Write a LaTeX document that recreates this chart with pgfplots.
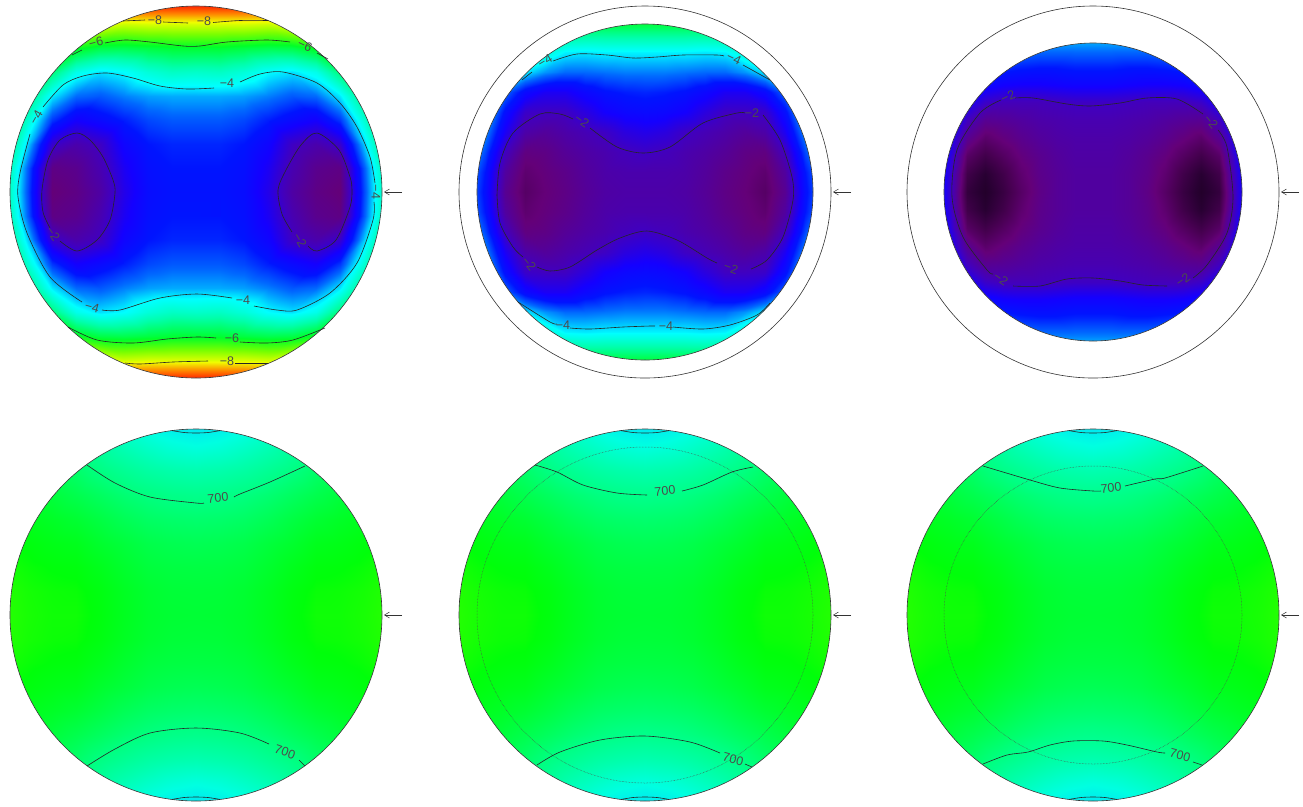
\documentclass[border=0pt]{standalone}
\usepackage{fontspec}
\setmainfont{Liberation Sans}
\usepackage{pgfplots}
\usepackage{pgfplotstable}
\pgfplotsset{compat=1.18}
\usetikzlibrary{arrows.meta}
\pgfplotsset{
 colormap={topmap}{rgb255(0pt)=(220,0,0) rgb255(5pt)=(255,20,0) rgb255(15pt)=(255,130,0) rgb255(25pt)=(240,255,0) rgb255(35pt)=(120,255,0) rgb255(45pt)=(0,255,40) rgb255(55pt)=(0,255,170) rgb255(63pt)=(0,255,255) rgb255(65pt)=(0,215,255) rgb255(70pt)=(0,105,255) rgb255(75pt)=(0,20,255) rgb255(79pt)=(20,0,255) rgb255(85pt)=(65,0,190) rgb255(93pt)=(100,0,120) rgb255(97pt)=(72,0,82) rgb255(101pt)=(40,0,50) rgb255(105pt)=(20,0,20)},
 colormap={botmap}{rgb255(0pt)=(0,225,245) rgb255(30pt)=(0,255,225) rgb255(70pt)=(0,255,175) rgb255(110pt)=(0,255,130) rgb255(160pt)=(0,255,60) rgb255(195pt)=(0,255,10) rgb255(210pt)=(45,255,0)},
 panel/.style={scale only axis,width=450pt,height=420pt,xmin=-225,xmax=225,ymin=-210,ymax=210,y dir=reverse,hide axis,anchor=center},
 toppanel/.style={panel,colormap name=topmap,point meta min=-10.5,point meta max=0},
 botpanel/.style={panel,colormap name=botmap,point meta min=590,point meta max=800},
 fieldstyle/.style={surf,shader=interp,mesh/ordering=x varies,point meta=explicit,forget plot},
 cline/.style={black!85,line width=0.6pt,smooth,no marks,forget plot},
}
\newcommand\disk[2]{%
 \addplot[fieldstyle,mesh/cols=#2] table[x=x,y=y,meta=v]{#1};
 \addplot[fieldstyle,mesh/cols=#2] table[x expr={-\thisrow{x}},y=y,meta=v]{#1};
 \addplot[fieldstyle,mesh/cols=#2] table[x=x,y expr={-\thisrow{y}},meta=v]{#1};
 \addplot[fieldstyle,mesh/cols=#2] table[x expr={-\thisrow{x}},y expr={-\thisrow{y}},meta=v]{#1};
}
\newcommand\mask[1]{\fill[white,even odd rule] (axis cs:-225,-210) rectangle (axis cs:225,210) (axis cs:0,0) circle [radius=#1];}
\newcommand\rim[1]{\draw[black!80,line width=0.6pt] (axis cs:0,0) circle [radius=#1];}
\newcommand\pointer{\addplot[black!80,line width=0.5pt,no marks,forget plot,-{Straight Barb[length=5pt,width=6pt]}] coordinates {(206,0)(188,0)};}
\newcommand\ct[1]{\addplot[cline] coordinates {#1};}
\newcommand\lab[4][0]{\node[font=\fontsize{12.5}{13}\selectfont,text=black!70,rotate=#1,inner sep=0pt] at (axis cs:#2,#3) {#4};}
\newcommand\poles{\ct{(-24,-184.4)(-12,-182.5)(0,-182)(12,-182.5)(24,-184.4)}\ct{(-24,184.4)(-12,182.5)(0,182)(12,182.5)(24,184.4)}}

\pgfplotstableread{
x y v
-24 -24 -2.95
0 -24 -3.0
24 -24 -3.0
48 -24 -2.9
72 -24 -2.5
96 -24 -1.85
120 -24 -1.45
144 -24 -1.35
168 -24 -3.4
192 -24 -5.3
-24 0 -2.95
0 0 -2.95
24 0 -2.95
48 0 -2.85
72 0 -2.4
96 0 -1.7
120 0 -1.35
144 0 -1.2
168 0 -3.3
192 0 -5.2
-24 24 -3.0
0 24 -3.0
24 24 -3.0
48 24 -2.9
72 24 -2.5
96 24 -1.85
120 24 -1.45
144 24 -1.35
168 24 -3.4
192 24 -5.3
-24 48 -3.1
0 48 -3.1
24 48 -3.1
48 48 -3.0
72 48 -2.7
96 48 -2.05
120 48 -1.8
144 48 -2.15
168 48 -3.95
192 48 -5.7
-24 72 -3.4
0 72 -3.4
24 72 -3.4
48 72 -3.3
72 72 -3.05
96 72 -2.8
120 72 -2.6
144 72 -3.2
168 72 -4.6
192 72 -6.2
-24 96 -3.8
0 96 -3.8
24 96 -3.8
48 96 -3.75
72 96 -3.6
96 96 -3.4
120 96 -3.5
144 96 -4.1
168 96 -5.4
192 96 -7
-24 120 -4.75
0 120 -4.7
24 120 -4.75
48 120 -4.55
72 120 -4.2
96 120 -4.05
120 120 -4.4
144 120 -5.4
168 120 -6.8
192 120 -8.5
-24 144 -5.9
0 144 -5.9
24 144 -5.9
48 144 -5.8
72 144 -5.7
96 144 -5.75
120 144 -6.1
144 144 -7
168 144 -8.3
192 144 -10
-24 168 -7.8
0 168 -7.8
24 168 -7.8
48 168 -7.8
72 168 -7.7
96 168 -8
120 168 -8.5
144 168 -9.3
168 168 -10
192 168 -10.5
-24 192 -10.5
0 192 -10.5
24 192 -10.5
48 192 -10.5
72 192 -10.5
96 192 -10.5
120 192 -10.5
144 192 -10.5
168 192 -10.5
192 192 -10.5
}\tA

\pgfplotstableread{
x y v
-20 -20 -1.8
0 -20 -1.8
20 -20 -1.8
40 -20 -1.75
60 -20 -1.6
80 -20 -1.4
100 -20 -1.25
120 -20 -1.1
140 -20 -1.65
160 -20 -3.0
180 -20 -3.9
-20 0 -1.75
0 0 -1.75
20 0 -1.75
40 0 -1.7
60 0 -1.55
80 0 -1.35
100 0 -1.2
120 0 -1.0
140 0 -1.5
160 0 -2.9
180 0 -3.8
-20 20 -1.8
0 20 -1.8
20 20 -1.8
40 20 -1.75
60 20 -1.6
80 20 -1.4
100 20 -1.25
120 20 -1.1
140 20 -1.65
160 20 -3.0
180 20 -3.9
-20 40 -1.97
0 40 -2.05
20 40 -1.97
40 40 -1.82
60 40 -1.7
80 40 -1.55
100 40 -1.35
120 40 -1.3
140 40 -2.0
160 40 -3.3
180 40 -4.3
-20 60 -2.3
0 60 -2.4
20 60 -2.3
40 60 -2.05
60 60 -1.9
80 60 -1.75
100 60 -1.6
120 60 -1.75
140 60 -2.5
160 60 -3.7
180 60 -4.8
-20 80 -2.75
0 80 -2.8
20 80 -2.75
40 80 -2.6
60 80 -2.3
80 80 -2.03
100 80 -2.02
120 80 -2.1
140 80 -2.9
160 80 -4.1
180 80 -5.5
-20 100 -3.05
0 100 -3.1
20 100 -3.05
40 100 -2.95
60 100 -2.75
80 100 -2.5
100 100 -2.5
120 100 -2.8
140 100 -3.5
160 100 -4.8
180 100 -6
-20 120 -3.6
0 120 -3.6
20 120 -3.6
40 120 -3.55
60 120 -3.5
80 120 -3.5
100 120 -3.7
120 120 -4.1
140 120 -4.9
160 120 -5.8
180 120 -6.8
-20 140 -4.15
0 140 -4.15
20 140 -4.15
40 140 -4.15
60 140 -4.1
80 140 -4.15
100 140 -4.6
120 140 -5.2
140 140 -6
160 140 -6.9
180 140 -7.8
-20 160 -5.3
0 160 -5.3
20 160 -5.3
40 160 -5.3
60 160 -5.3
80 160 -5.5
100 160 -5.9
120 160 -6.5
140 160 -7.2
160 160 -8
180 160 -8.8
-20 180 -6.6
0 180 -6.6
20 180 -6.6
40 180 -6.6
60 180 -6.7
80 180 -6.9
100 180 -7.2
120 180 -7.7
140 180 -8.3
160 180 -9
180 180 -9.7
}\tBraw

\pgfplotstableread{
x y v
-18 -18 -1.65
0 -18 -1.65
18 -18 -1.65
36 -18 -1.55
54 -18 -1.4
72 -18 -1.1
90 -18 -0.7
108 -18 -0.4
126 -18 -0.7
144 -18 -2.25
162 -18 -3.5
-18 0 -1.65
0 0 -1.65
18 0 -1.65
36 0 -1.55
54 0 -1.35
72 0 -1.0
90 0 -0.6
108 0 -0.3
126 0 -0.55
144 0 -2.2
162 0 -3.5
-18 18 -1.65
0 18 -1.65
18 18 -1.65
36 18 -1.55
54 18 -1.4
72 18 -1.1
90 18 -0.7
108 18 -0.4
126 18 -0.7
144 18 -2.25
162 18 -3.5
-18 36 -1.7
0 36 -1.7
18 36 -1.7
36 36 -1.6
54 36 -1.45
72 36 -1.25
90 36 -0.95
108 36 -0.7
126 36 -1.0
144 36 -2.4
162 36 -3.6
-18 54 -1.75
0 54 -1.75
18 54 -1.75
36 54 -1.7
54 54 -1.6
72 54 -1.45
90 54 -1.25
108 54 -1.05
126 54 -1.5
144 54 -2.6
162 54 -3.7
-18 72 -1.85
0 72 -1.85
18 72 -1.85
36 72 -1.8
54 72 -1.75
72 72 -1.65
90 72 -1.55
108 72 -1.5
126 72 -2.0
144 72 -3
162 72 -3.9
-18 90 -2.05
0 90 -2.05
18 90 -2.05
36 90 -2.0
54 90 -1.95
72 90 -1.95
90 90 -1.95
108 90 -2.1
126 90 -2.6
144 90 -3.4
162 90 -4.2
-18 108 -2.7
0 108 -2.7
18 108 -2.7
36 108 -2.65
54 108 -2.6
72 108 -2.6
90 108 -2.65
108 108 -2.8
126 108 -3.2
144 108 -3.9
162 108 -4.6
-18 126 -3.1
0 126 -3.1
18 126 -3.1
36 126 -3.05
54 126 -3.05
72 126 -3.1
90 126 -3.2
108 126 -3.4
126 126 -3.8
144 126 -4.3
162 126 -4.9
-18 144 -3.6
0 144 -3.6
18 144 -3.6
36 144 -3.6
54 144 -3.6
72 144 -3.7
90 144 -3.8
108 144 -4
126 144 -4.3
144 144 -4.7
162 144 -5.2
-18 162 -4.2
0 162 -4.2
18 162 -4.2
36 162 -4.2
54 162 -4.25
72 162 -4.3
90 162 -4.4
108 162 -4.6
126 162 -4.8
144 162 -5.1
162 162 -5.5
}\tCraw

\pgfplotstableread{
x y v
-24 -24 753
0 -24 752
24 -24 753
48 -24 758
72 -24 768
96 -24 780
120 -24 788
144 -24 789
168 -24 792
192 -24 797
-24 0 756
0 0 755
24 0 756
48 0 760
72 0 770
96 0 782
120 0 790
144 0 790
168 0 793
192 0 798
-24 24 753
0 24 752
24 24 753
48 24 758
72 24 768
96 24 780
120 24 788
144 24 789
168 24 792
192 24 797
-24 48 746
0 48 745
24 48 746
48 48 750
72 48 760
96 48 772
120 48 782
144 48 784
168 48 788
192 48 793
-24 72 735
0 72 733
24 72 735
48 72 740
72 72 750
96 72 760
120 72 772
144 72 776
168 72 782
192 72 788
-24 96 717
0 96 715
24 96 717
48 96 722
72 96 732
96 96 745
120 96 757
144 96 765
168 96 772
192 96 780
-24 120 695
0 120 692
24 120 695
48 120 702
72 120 712
96 120 725
120 120 738
144 120 750
168 120 760
192 120 770
-24 144 664
0 144 660
24 144 664
48 144 672
72 144 685
96 144 700
120 144 718
144 144 732
168 144 748
192 144 760
-24 168 628
0 168 622
24 168 628
48 168 640
72 168 655
96 168 675
120 168 695
144 168 712
168 168 728
192 168 745
-24 192 596
0 192 590
24 192 596
48 192 610
72 192 628
96 192 650
120 192 672
144 192 690
168 192 708
192 192 725
}\tD

\begin{document}
\begin{tikzpicture}
\useasboundingbox (0pt,0pt) rectangle (1303pt,-806pt);

% top left
\begin{axis}[toppanel,at={(196pt,-192pt)}]
\disk{\tA}{10}
\mask{186}\rim{186}\pointer
\ct{(-73,-171)(-51,-172)}\ct{(-33,-170)(-8,-169)}\ct{(17,-169.5)(44,-171.5)(72,-171.5)}
\ct{(-71,171)(-56,172)(-23,170)(12,169)}\ct{(39,171)(72,171)}
\lab{-41}{-172}{−8}\lab{8}{-171}{−8}\lab{31}{169}{−8}
\ct{(-124,-137)(-114,-142)}\ct{(-91,-149)(-71,-152)(-46,-150)(-13,-146)(4,-146)(31,-150)(71,-152)(94,-150)}\ct{(121,-139)(132,-133)}
\ct{(-128,135)(-99,148)(-63,151)(-29,147)(1,145)(20,146)}\ct{(44,150)(71,151)(97,148)(129,136)}
\lab[15]{-100}{-150}{−6}\lab[-25]{109}{-146}{−6}\lab{36}{146}{−6}
\ct{(178,10)(177,28)(161,71)(134,101)(101,118)(81,118)(58,114)}
\ct{(36,106)(1,102)(-36,106)(-76,118)(-94,118)}
\ct{(-114,110)(-146,85)(-169,41)(-178,5)(-176,-19)(-166,-58)}
\ct{(-153,-85)(-133,-107)(-113,-116)(-89,-119)(-63,-114)(-36,-106)(-9,-103)(18,-104)}
\ct{(44,-110)(64,-118)(87,-120)(121,-109)(144,-89)(161,-65)(174,-35)(179,-9)}
\lab{31}{-109}{−4}\lab{47}{108}{−4}\lab[-15]{-104}{115}{−4}\lab[60]{-160}{-75}{−4}\lab[-90]{180}{0}{−4}
\ct{(-146,36)(-153,20)(-154,-2)(-148,-32)(-136,-52)(-119,-59)(-106,-52)(-93,-35)(-83,-12)(-81,1)(-86,28)(-99,48)(-119,59)(-136,49)}
\ct{(112,54)(121,59)(140,48)(154,15)(156,-2)(154,-15)(143,-42)(121,-59)(105,-47)(90,-22)(82,-2)(86,22)(96,40)}
\lab[-55]{-143}{42}{−2}\lab[-60]{104}{48}{−2}
\end{axis}

% top middle
\begin{axis}[toppanel,at={(645pt,-192pt)}]
\disk{\tBraw}{11}
\mask{168}\rim{168}\rim{186}\pointer
\ct{(-123,-112)(-113,-120)}\ct{(-92,-131)(-68,-138)(-38,-137)(-12,-134)(12,-135)(38,-137)(72,-137)(79,-136)}\ct{(98,-127)(125,-112)}
\ct{(-127,110)(-95,130)(-88,132)}\ct{(-75,136)(-55,137)(-22,135)(5,134)(10,134)}\ct{(28,135)(58,137)(85,133)(112,123)(125,111)}
\lab[30]{-100}{-131}{−4}\lab[-25]{89}{-133}{−4}\lab{-82}{133}{−4}\lab{21}{134}{−4}
\ct{(-148,3)(-145,-29)(-132,-59)(-105,-78)(-85,-78)(-72,-73)}
\ct{(-55,-64)(-28,-45)(-2,-39)(25,-45)(58,-69)(92,-79)(100,-79)}
\ct{(118,-77)(135,-52)(147,-15)(148,8)(138,45)(122,68)(106,77)}
\ct{(72,71)(62,66)(32,48)(2,39)(-25,46)(-48,58)(-75,75)(-95,79)(-108,75)}
\ct{(-122,65)(-132,55)(-145,31)(-148,3)}
\lab[-35]{-63}{-71}{−2}\lab{107}{-79}{−2}\lab[-20]{86}{76}{−2}\lab[-50]{-116}{72}{−2}
\end{axis}

% top right
\begin{axis}[toppanel,at={(1093pt,-192pt)}]
\disk{\tCraw}{11}
\mask{149}\rim{149}\rim{186}\pointer
\ct{(-78,-94)(-60,-94)(-26,-88)(-3,-86)(27,-89)(54,-94)(84,-93)(110,-78)}
\ct{(125,-62)(134,-45)(140,5)(134,41)(114,73)(100,86)}
\ct{(74,94)(50,93)(27,89)(0,86)(-26,87)(-53,94)(-80,94)}
\ct{(-100,82)(-106,78)(-130,45)(-141,5)(-136,-42)(-113,-79)(-92,-92)}
\lab[-50]{118}{-70}{−2}\lab[35]{90}{88}{−2}\lab[-35]{-92}{87}{−2}\lab[25]{-85}{-95}{−2}
\end{axis}

% bottom left
\begin{axis}[botpanel,at={(196pt,-615pt)}]
\disk{\tD}{10}
\mask{186}\rim{186}\pointer\poles
\ct{(-109,-150)(-81,-132)(-46,-118)(0,-112)(8,-112)}\ct{(38,-118)(44,-121)(74,-133)(109,-149)}
\ct{(-109,151)(-81,134)(-46,118)(0,113)(44,118)(73,129)}\ct{(103,145)(109,151)}
\lab[5]{22}{-117}{700}\lab[-20]{89}{137}{700}
\end{axis}

% bottom middle
\begin{axis}[botpanel,at={(645pt,-615pt)}]
\disk{\tD}{10}
\mask{186}\rim{186}\pointer\poles
\draw[black!70,line width=0.5pt,densely dotted] (axis cs:0,0) circle [radius=168];
\ct{(-110,-150)(-88,-143)(-62,-130)(-28,-122)(2,-120)}\ct{(37,-124)(58,-130)(87,-143)(108,-148)}
\ct{(-108,150)(-85,137)(-45,125)(0,121)(45,127)(75,138)}\ct{(100,149)(107,152)}
\lab[5]{20}{-124}{700}\lab[-15]{88}{144}{700}
\end{axis}

% bottom right
\begin{axis}[botpanel,at={(1093pt,-615pt)}]
\disk{\tD}{10}
\mask{186}\rim{186}\pointer\poles
\draw[black!70,line width=0.5pt,densely dotted] (axis cs:0,0) circle [radius=149];
\ct{(-110,-149)(-63,-135)(-33,-127)(0,-124)(8,-124)}\ct{(32,-129)(62,-136)(72,-137)(110,-149)}
\ct{(-110,149)(-86,140)(-65,137)(-43,130)(-20,126)(10,126)(34,130)(64,137)(72,138)}\ct{(100,147)(109,150)}
\lab[5]{18}{-127}{700}\lab[-15]{87}{140}{700}
\end{axis}
\end{tikzpicture}
\end{document}
